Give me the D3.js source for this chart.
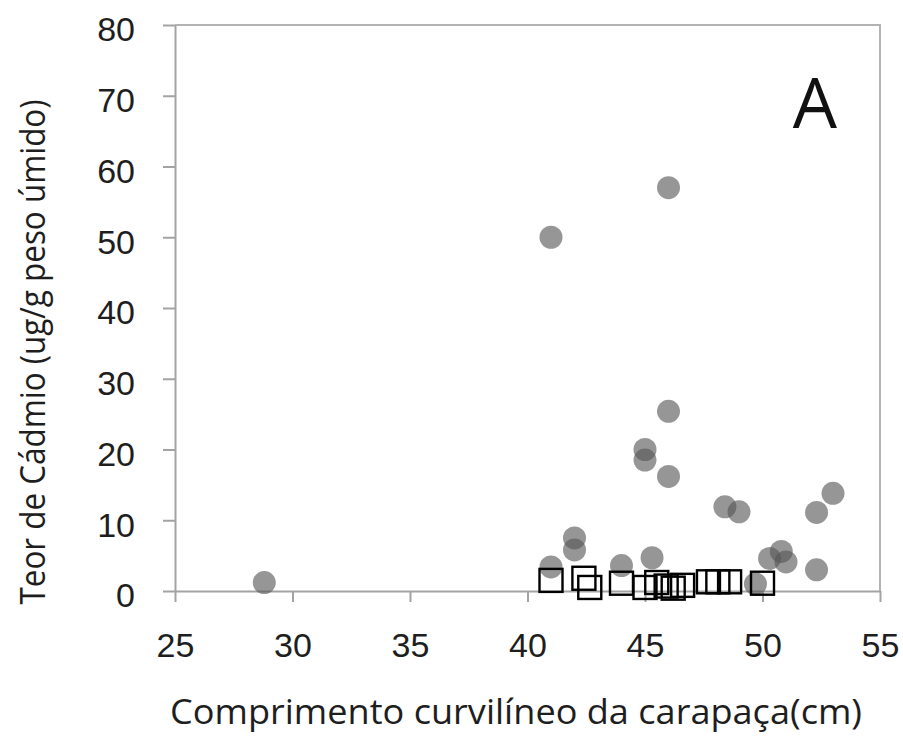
<!DOCTYPE html>
<html lang='pt'>
<head>
  <meta charset='UTF-8'>
  <title>Teor de Cádmio x Comprimento curvilíneo da carapaça</title>
  <style>
  body {
    margin: 0;
    background: #fff;
  }
  svg {
    display: block;
    font-family: 'Open Sans', sans-serif;
  }
  .axis path, .axis line {
    stroke: #a3a3a3;
    stroke-width: 2px;
  }
  .axis text {
    font-size: 34px;
    fill: #1e1e1e;
  }
  .label {
    font-size: 35px;
    fill: #1e1e1e;
  }
  </style>
  <script src="https://d3js.org/d3.v7.min.js"></script>
</head>
<body>
  <script>

  // comprimento (cm) / teor (ug/g) - circulos cinza
  var circleX = [28.8, 41.0, 46.0, 46.0, 45.0, 45.0, 46.0, 41.0, 42.0, 42.0, 44.0, 45.3,
                 48.4, 49.0, 52.3, 53.0, 50.3, 50.8, 51.0, 52.3, 49.7];
  var circleY = [1.2, 50.0, 57.0, 25.4, 20.0, 18.5, 16.2, 3.4, 7.5, 5.8, 3.6, 4.7,
                 11.9, 11.2, 11.1, 13.8, 4.6, 5.6, 4.1, 3.0, 1.0];

  // quadrados abertos
  var squareX = [41.0, 42.4, 42.65, 44.0, 45.0, 45.5, 45.9, 46.2, 46.6, 47.7, 48.1, 48.6, 50.0];
  var squareY = [1.5, 1.8, 0.5, 1.1, 0.5, 1.2, 0.7, 0.4, 0.8, 1.3, 1.3, 1.3, 1.1];

  var xTicks = [25, 30, 35, 40, 45, 50, 55];
  var yTicks = [0, 10, 20, 30, 40, 50, 60, 70, 80];

  var svgWidth = 903;
  var svgHeight = 738;
  var margin = { top: 25, right: 23, bottom: 147, left: 175 };
  var width = svgWidth - margin.left - margin.right;
  var height = svgHeight - margin.top - margin.bottom;

  var svg = d3.select('body').append('svg')
    .attr('width', svgWidth)
    .attr('height', svgHeight);

  var g = svg.append('g').attr('transform', 'translate(' + margin.left + ',' + margin.top + ')');

  var x = d3.scaleLinear().domain([25, 55]).range([0, width]);
  var y = d3.scaleLinear().domain([0, 80]).range([height, 0]);

  // moldura superior e direita da area do grafico
  g.append('path')
   .attr('d', 'M0,0H' + width + 'V' + height)
   .attr('fill', 'none')
   .attr('stroke', '#b3b3b3')
   .attr('stroke-width', 2);

  g.append('g')
   .attr('class', 'x axis')
   .attr('transform', 'translate(0,' + height + ')')
   .call(d3.axisBottom(x).tickValues(xTicks).tickSize(11).tickSizeOuter(0).tickPadding(31));

  g.append('g')
   .attr('class', 'y axis')
   .call(d3.axisLeft(y).tickValues(yTicks).tickSize(12).tickSizeOuter(0).tickPadding(28))
   .selectAll('text')
   .attr('dy', '0.47em');

  var circles = circleX.map(function (d, i) { return { x: d, y: circleY[i] }; });
  var squares = squareX.map(function (d, i) { return { x: d, y: squareY[i] }; });

  g.selectAll('.dot')
   .data(circles)
   .enter()
   .append('circle')
   .attr('class', 'dot')
   .attr('cx', function (d) { return x(d.x); })
   .attr('cy', function (d) { return y(d.y); })
   .attr('r', 11.5)
   .attr('fill', '#555')
   .attr('fill-opacity', 0.62);

  var side = 23;
  g.selectAll('.sq')
   .data(squares)
   .enter()
   .append('rect')
   .attr('class', 'sq')
   .attr('x', function (d) { return x(d.x) - side / 2; })
   .attr('y', function (d) { return y(d.y) - side / 2; })
   .attr('width', side)
   .attr('height', side)
   .attr('fill', 'none')
   .attr('stroke', '#000')
   .attr('stroke-width', 2.4);

  // titulos dos eixos
  svg.append('text')
     .attr('class', 'label')
     .attr('text-anchor', 'middle')
     .attr('x', 516)
     .attr('y', 724)
     .attr('textLength', 692)
     .attr('lengthAdjust', 'spacingAndGlyphs')
     .text('Comprimento curvilíneo da carapaça(cm)');

  svg.append('text')
     .attr('class', 'label')
     .attr('text-anchor', 'middle')
     .attr('transform', 'translate(45,352) rotate(-90)')
     .attr('textLength', 505)
     .attr('lengthAdjust', 'spacingAndGlyphs')
     .text('Teor de Cádmio (ug/g peso úmido)');

  svg.append('text')
     .attr('text-anchor', 'middle')
     .attr('x', 815)
     .attr('y', 128)
     .style('font-size', '70px')
     .style('fill', '#111')
     .text('A');
  </script>
</body>
</html>
